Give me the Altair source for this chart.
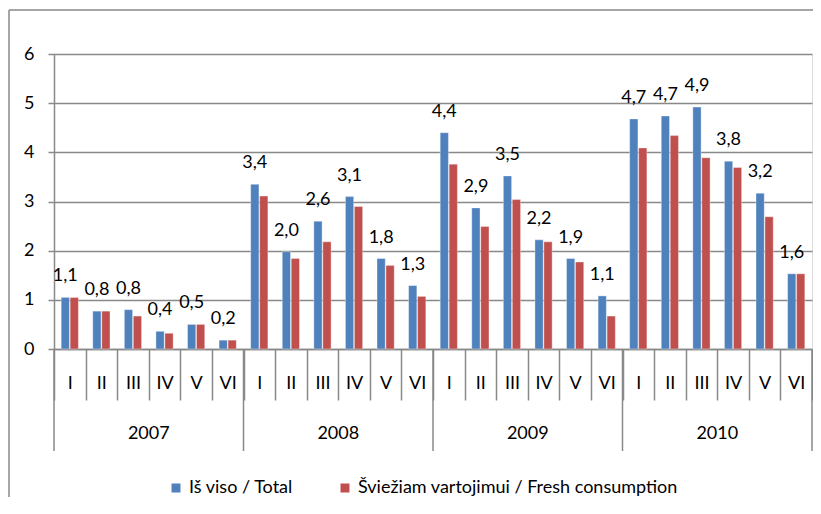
import altair as alt
import pandas as pd

years = ["2007", "2008", "2009", "2010"]
months = ["I", "II", "III", "IV", "V", "VI"]
series = ["Iš viso / Total", "Šviežiam vartojimui / Fresh consumption"]

total = [1.05, 0.77, 0.80, 0.36, 0.50, 0.18,
         3.35, 1.98, 2.60, 3.10, 1.84, 1.29,
         4.40, 2.87, 3.52, 2.22, 1.84, 1.08,
         4.68, 4.74, 4.92, 3.82, 3.17, 1.53]
fresh = [1.05, 0.77, 0.67, 0.32, 0.50, 0.18,
         3.11, 1.84, 2.18, 2.90, 1.70, 1.07,
         3.76, 2.49, 3.04, 2.18, 1.77, 0.67,
         4.09, 4.34, 3.89, 3.69, 2.69, 1.53]
labels = ["1,1", "0,8", "0,8", "0,4", "0,5", "0,2",
          "3,4", "2,0", "2,6", "3,1", "1,8", "1,3",
          "4,4", "2,9", "3,5", "2,2", "1,9", "1,1",
          "4,7", "4,7", "4,9", "3,8", "3,2", "1,6"]
y_ticks = [0, 1, 2, 3, 4, 5, 6]

colors = ["#4F81BD", "#C0504D"]
grey = "#898989"
FONT = "Lato"
FS = 18

cats = [f"{y} {m}" for y in years for m in months]

rows = []
for i, c in enumerate(cats):
    rows.append({"cat": c, "series": series[0], "value": total[i], "label": labels[i]})
    rows.append({"cat": c, "series": series[1], "value": fresh[i], "label": ""})
df = pd.DataFrame(rows)
df_lab = df[df["series"] == series[0]]

xscale = alt.Scale(domain=cats, paddingInner=0, paddingOuter=0)
offscale = alt.Scale(domain=series, paddingInner=0.08, paddingOuter=0.8)

bars = alt.Chart(df).mark_bar(stroke="white", strokeWidth=0.6, strokeOpacity=0.6).encode(
    x=alt.X("cat:N", scale=xscale,
            axis=alt.Axis(title=None, labelExpr="split(datum.value, ' ')[1]",
                          tickBand="extent", tickSize=51, tickColor=grey, tickWidth=1.5,
                          domainColor=grey, domainWidth=1.5,
                          labelAngle=0, labelBaseline="middle", labelAlign="center",
                          labelPadding=-17, labelFontSize=FS, labelFont=FONT,
                          labelColor="black", labelOverlap=False, labelFlush=False)),
    xOffset=alt.XOffset("series:N", sort=series, scale=offscale),
    y=alt.Y("value:Q", scale=alt.Scale(domain=[0, 6], nice=False),
            axis=alt.Axis(title=None, values=y_ticks, format="d", tickSize=6,
                          tickColor=grey, tickWidth=1.5, domainColor=grey, domainWidth=1.5,
                          grid=True, gridColor=grey, gridWidth=1.5,
                          labelFontSize=FS, labelFont=FONT, labelColor="black",
                          labelPadding=14)),
    color=alt.Color("series:N", sort=series,
                    scale=alt.Scale(domain=series, range=colors),
                    legend=alt.Legend(title=None, orient="none", direction="horizontal",
                                      legendX=113, legendY=425,
                                      symbolType="square", symbolSize=81,
                                      symbolStrokeWidth=0, labelFontSize=FS,
                                      labelFont=FONT, labelColor="black", labelLimit=0,
                                      labelOffset=4, columnPadding=42)),
)

text = alt.Chart(df_lab).mark_text(baseline="alphabetic", dy=-16, fontSize=FS,
                                   font=FONT, color="black").encode(
    x=alt.X("cat:N", scale=xscale),
    xOffset=alt.XOffset("series:N", sort=series, scale=offscale),
    y=alt.Y("value:Q"),
    text="label:N",
)

year_start = pd.DataFrame({"cat": [f"{y} I" for y in years], "year": years})
year_mid = pd.DataFrame({"cat": [f"{y} IV" for y in years], "year": years})
year_end = pd.DataFrame({"cat": [cats[-1]]})

sep = alt.Chart(year_start).mark_rule(color=grey, strokeWidth=1.5).encode(
    x=alt.X("cat:N", scale=xscale, bandPosition=0),
    y=alt.value(295), y2=alt.value(397),
)
sep_end = alt.Chart(year_end).mark_rule(color=grey, strokeWidth=1.5).encode(
    x=alt.X("cat:N", scale=xscale, bandPosition=1),
    y=alt.value(295), y2=alt.value(397),
)
year_txt = alt.Chart(year_mid).mark_text(fontSize=FS, font=FONT, color="black",
                                          baseline="middle").encode(
    x=alt.X("cat:N", scale=xscale, bandPosition=0),
    y=alt.value(380),
    text="year:N",
)

one = pd.DataFrame({"a": [0]})
frame_left = alt.Chart(one).mark_rule(color=grey, strokeWidth=1.5).encode(
    x=alt.value(-45), y=alt.value(-44), y2=alt.value(460))
frame_top = alt.Chart(one).mark_rule(color=grey, strokeWidth=1.5).encode(
    x=alt.value(-45), x2=alt.value(770), y=alt.value(-44))

chart = alt.layer(bars, text, sep, sep_end, year_txt, frame_left, frame_top).properties(
    width=758, height=295,
    autosize=alt.AutoSizeParams(type="none"),
    padding={"left": 46, "top": 46, "right": 1, "bottom": 148},
).configure_view(strokeWidth=0).configure(background="white")

chart.save("out.html", embed_options={"renderer": "svg", "actions": False})
